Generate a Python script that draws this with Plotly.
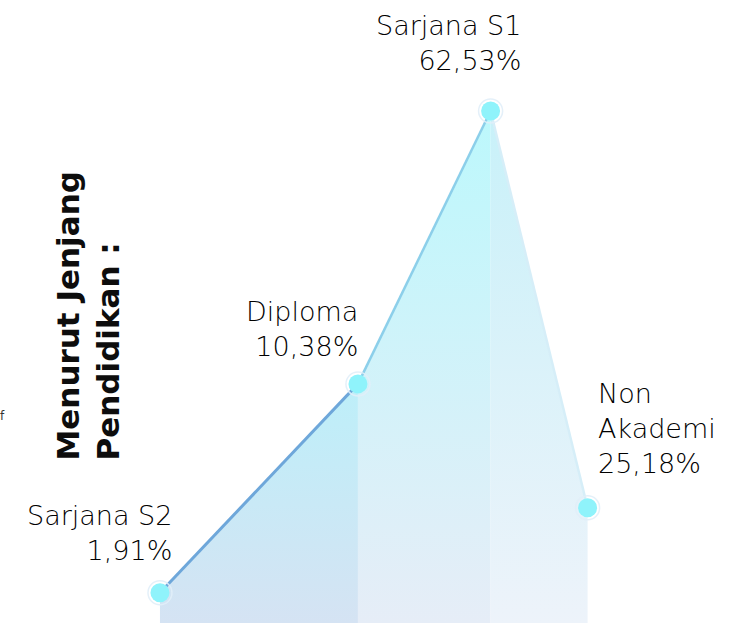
import plotly.graph_objects as go

# ---- data ----
categories = ["Sarjana S2", "Diploma", "Sarjana S1", "Non Akademi"]
category_labels = ["Sarjana S2", "Diploma", "Sarjana S1", "Non<br>Akademi"]
percent_labels = ["1,91%", "10,38%", "62,53%", "25,18%"]
percent_values = [1.91, 10.38, 62.53, 25.18]
# relative positions / heights of the points as drawn in the picture
point_x = [0.0, 1.0, 1.67, 2.16]
point_height = [5.9, 46.7, 100.0, 22.5]

title_text = "Menurut Jenjang<br>Pendidikan :"

# ---- styles ----
seg_fill_top = ["#bdeff9", "#bcf8fc", "#c8f1f9"]
seg_fill_bottom = ["#d5e3f3", "#e6edf7", "#edf3fa"]
seg_line = ["#6ea7da", "#8ccfea", "#d6eef8"]
seg_line_w = [3, 2.5, 2.5]
marker_color = "#8ff3fb"
label_font = dict(family="DejaVu Sans, sans-serif", size=27, color="#000000", weight=300)

fig = go.Figure()

# area segments
for i in range(len(point_x) - 1):
    xs = [point_x[i], point_x[i], point_x[i + 1], point_x[i + 1], point_x[i]]
    ys = [0, point_height[i], point_height[i + 1], 0, 0]
    fig.add_trace(go.Scatter(
        x=xs, y=ys, mode="lines", fill="toself",
        line=dict(width=0, color="rgba(0,0,0,0)"),
        fillgradient=dict(type="vertical",
                          colorscale=[[0, seg_fill_bottom[i]], [1, seg_fill_top[i]]],
                          start=0, stop=max(point_height[i], point_height[i + 1])),
        hoverinfo="skip", showlegend=False))

# segment lines
for i in range(len(point_x) - 1):
    fig.add_trace(go.Scatter(
        x=[point_x[i], point_x[i + 1]], y=[point_height[i], point_height[i + 1]],
        mode="lines", line=dict(color=seg_line[i], width=seg_line_w[i]),
        hoverinfo="skip", showlegend=False))

# markers
fig.add_trace(go.Scatter(
    x=point_x, y=point_height, mode="markers",
    marker=dict(size=24, color="rgba(255,255,255,0)",
                line=dict(color="rgba(225,238,248,0.9)", width=1.5)),
    hoverinfo="skip", showlegend=False))
fig.add_trace(go.Scatter(
    x=point_x, y=point_height, mode="markers",
    marker=dict(size=19, color=marker_color, line=dict(width=0)),
    customdata=percent_values, text=categories,
    hovertemplate="%{text}: %{customdata}%<extra></extra>",
    showlegend=False))

# labels
label_style = [
    dict(xanchor="right", yanchor="bottom", xshift=14, yshift=25, align="right"),
    dict(xanchor="right", yanchor="bottom", xshift=2, yshift=20, align="right"),
    dict(xanchor="right", yanchor="bottom", xshift=32, yshift=33, align="right"),
    dict(xanchor="left", yanchor="bottom", xshift=8, yshift=27, align="left"),
]
for i in range(len(categories)):
    fig.add_annotation(
        x=point_x[i], y=point_height[i], xref="x", yref="y",
        text=f"{category_labels[i]}<br>{percent_labels[i]}",
        showarrow=False, font=label_font, **label_style[i])

# vertical title
fig.add_annotation(
    xref="paper", yref="paper", x=47 / 746, y=1 - 463 / 625,
    xanchor="left", yanchor="bottom", text=f"<b>{title_text}</b>",
    textangle=-90, align="left", showarrow=False,
    font=dict(family="DejaVu Sans, sans-serif", size=31, color="#0d0d0d", weight=800))

# small text fragment at left edge
fig.add_annotation(
    xref="paper", yref="paper", x=0, y=1 - 416 / 625, xanchor="left", yanchor="middle",
    xshift=-2, text="f", showarrow=False,
    font=dict(family="DejaVu Sans, sans-serif", size=12, color="#333333"))

fig.update_layout(
    width=746, height=625,
    margin=dict(l=0, r=0, t=0, b=0),
    paper_bgcolor="white", plot_bgcolor="white",
    xaxis=dict(range=[-0.808, 2.960], visible=False, fixedrange=True),
    yaxis=dict(range=[-0.39, 121.68], visible=False, fixedrange=True),
    showlegend=False,
)

fig.write_html("out.html", config={"displayModeBar": False},
               post_script="document.body.style.margin='0';document.body.style.padding='0';")
